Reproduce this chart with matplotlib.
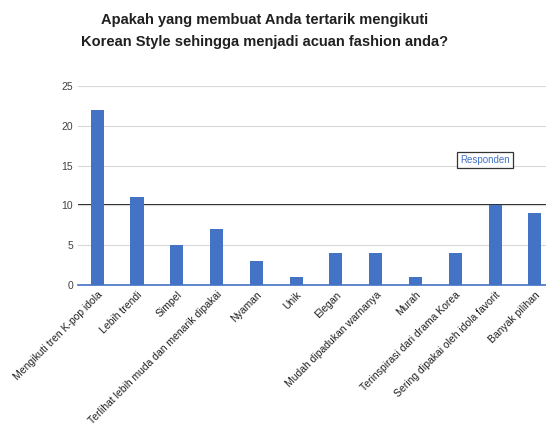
import numpy as np
import matplotlib
matplotlib.use('Agg')
import matplotlib.pyplot as plt

plt.rcParams['font.family'] = ['Liberation Sans', 'DejaVu Sans']

# 数据
kategori = ['Mengikuti tren K-pop idola',
            'Lebih trendi',
            'Simpel',
            'Terlihat lebih muda dan menarik dipakai',
            'Nyaman',
            'Unik',
            'Elegan',
            'Mudah dipadukan warnanya',
            'Murah',
            'Terinspirasi dari drama Korea',
            'Sering dipakai oleh idola favorit',
            'Banyak pilihan']
nilai = [22, 11, 5, 7, 3, 1, 4, 4, 1, 4, 10, 9]
yticks = [0, 5, 10, 15, 20, 25]
judul = ('Apakah yang membuat Anda tertarik mengikuti\n'
         'Korean Style sehingga menjadi acuan fashion anda?')
nama_seri = 'Responden'

fig = plt.figure(figsize=(5.46, 4.41), dpi=100)
ax = fig.add_axes([0.143, 0.354, 0.857, 0.451])

x = np.arange(len(kategori))
ax.bar(x, nilai, width=0.33, color='#4472C4', label=nama_seri, zorder=3)

ax.set_ylim(0, 25)
ax.set_yticks(yticks)
ax.set_xlim(-0.48, len(kategori) - 0.72)
ax.grid(axis='y', color='#D9D9D9', linewidth=0.8, zorder=0)
# garis 10 dan 25 tampak lebih gelap di gambar asli
ax.axhline(10, color='black', linewidth=1.2, zorder=1)
ax.axhline(25, color='#606060', linewidth=1.2, zorder=1)
for s in ['top', 'right', 'left']:
    ax.spines[s].set_visible(False)
ax.spines['bottom'].set_color('#4472C4')
ax.spines['bottom'].set_linewidth(1.2)
ax.tick_params(axis='both', length=0, labelsize=7.5, colors='#404040')
ax.set_xticks(x)
ax.set_xticklabels(kategori, rotation=45, ha='right', rotation_mode='anchor',
                   fontsize=7.5, color='#202020')

fig.text(0.485, 0.93, judul, ha='center', va='center', fontsize=10.5,
         fontweight='bold', color='#202020', linespacing=1.7)

leg = ax.legend(loc='center', bbox_to_anchor=(0.87, 0.63), fontsize=7,
                frameon=True, handlelength=0, handletextpad=0,
                borderpad=0.3, fancybox=False)
leg.get_frame().set_edgecolor('black')
leg.get_frame().set_linewidth(0.9)
for h in leg.legend_handles:
    h.set_visible(False)
for t in leg.get_texts():
    t.set_color('#4472C4')

plt.savefig('out.png', dpi=100)
